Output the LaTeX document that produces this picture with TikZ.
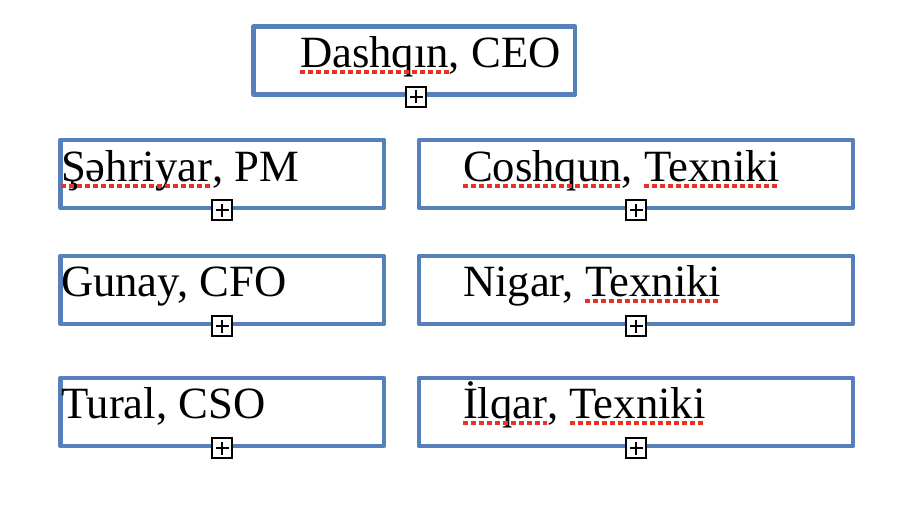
\documentclass[tikz,border=0pt]{standalone}
\usepackage{fontspec}
\setmainfont{Liberation Serif}
\definecolor{boxblue}{RGB}{86,128,188}
\definecolor{spellred}{RGB}{232,50,40}
\tikzset{
  orgbox/.style={draw=boxblue, line width=4.5pt, line join=round, fill=white, inner sep=0pt, minimum height=68pt},
  lbl/.style={anchor=base west, inner sep=0pt, outer sep=0pt, font=\fontsize{44.7}{50}\selectfont},
  plusbox/.style={draw=black, fill=white, line width=2pt, minimum width=20pt, minimum height=20pt, inner sep=0pt,
    path picture={
      \draw[black, line width=2pt] ([xshift=-6.5pt]path picture bounding box.center) -- ([xshift=6.5pt]path picture bounding box.center);
      \draw[black, line width=2pt] ([yshift=-6.5pt]path picture bounding box.center) -- ([yshift=6.5pt]path picture bounding box.center);
    }},
  spell/.style={draw=spellred, line width=4pt, dash pattern=on 5pt off 3pt}
}
\newcommand{\spellline}[1]{\draw[spell] ([yshift=-5pt]#1.base west) -- ([yshift=-5pt]#1.base east);}
\begin{document}
\begin{tikzpicture}[x=1pt, y=-1pt]
\useasboundingbox (0,0) rectangle (916,512);
% boxes
\node[orgbox, minimum width=321.5pt] (ceo) at (414.25,60.5) {};
\node[orgbox, minimum width=323.5pt] (pm) at (222.25,173.75) {};
\node[orgbox, minimum width=434pt] (t1) at (636,173.75) {};
\node[orgbox, minimum width=323.5pt] (cfo) at (222.25,289.75) {};
\node[orgbox, minimum width=434pt] (t2) at (636,289.75) {};
\node[orgbox, minimum width=323.5pt] (cso) at (222.25,412) {};
\node[orgbox, minimum width=434pt] (t3) at (636,412) {};
% texts
\node[lbl] (ceoA) at (300,67) {Dashqın};
\node[lbl] (ceoB) at (ceoA.base east) {, CEO};
\node[lbl] (pmA) at (61,181) {Şəhriyar};
\node[lbl] (pmB) at (pmA.base east) {, PM};
\node[lbl] (t1A) at (463,181) {Coshqun};
\node[lbl] (t1B) at (t1A.base east) {,};
\node[lbl] (t1C) at ([xshift=11.2pt]t1B.base east) {Texniki};
\node[lbl] (cfoA) at (61,296) {Gunay, CFO};
\node[lbl] (t2A) at (463,296) {Nigar,};
\node[lbl] (t2B) at ([xshift=11.2pt]t2A.base east) {Texniki};
\node[lbl] (csoA) at (61,418) {Tural, CSO};
\node[lbl] (t3A) at (463,418) {İlqar};
\node[lbl] (t3B) at (t3A.base east) {,};
\node[lbl] (t3C) at ([xshift=11.2pt]t3B.base east) {Texniki};
% spell-check underlines
\spellline{ceoA}
\spellline{pmA}
\spellline{t1A}
\spellline{t1C}
\spellline{t2B}
\spellline{t3A}
\spellline{t3C}
% expand icons
\node[plusbox] (ceoP) at ([xshift=2pt]ceo.south) {};
\node[plusbox] (pmP) at (pm.south) {};
\node[plusbox] (t1P) at (t1.south) {};
\node[plusbox] (cfoP) at (cfo.south) {};
\node[plusbox] (t2P) at (t2.south) {};
\node[plusbox] (csoP) at (cso.south) {};
\node[plusbox] (t3P) at (t3.south) {};
\end{tikzpicture}
\end{document}
